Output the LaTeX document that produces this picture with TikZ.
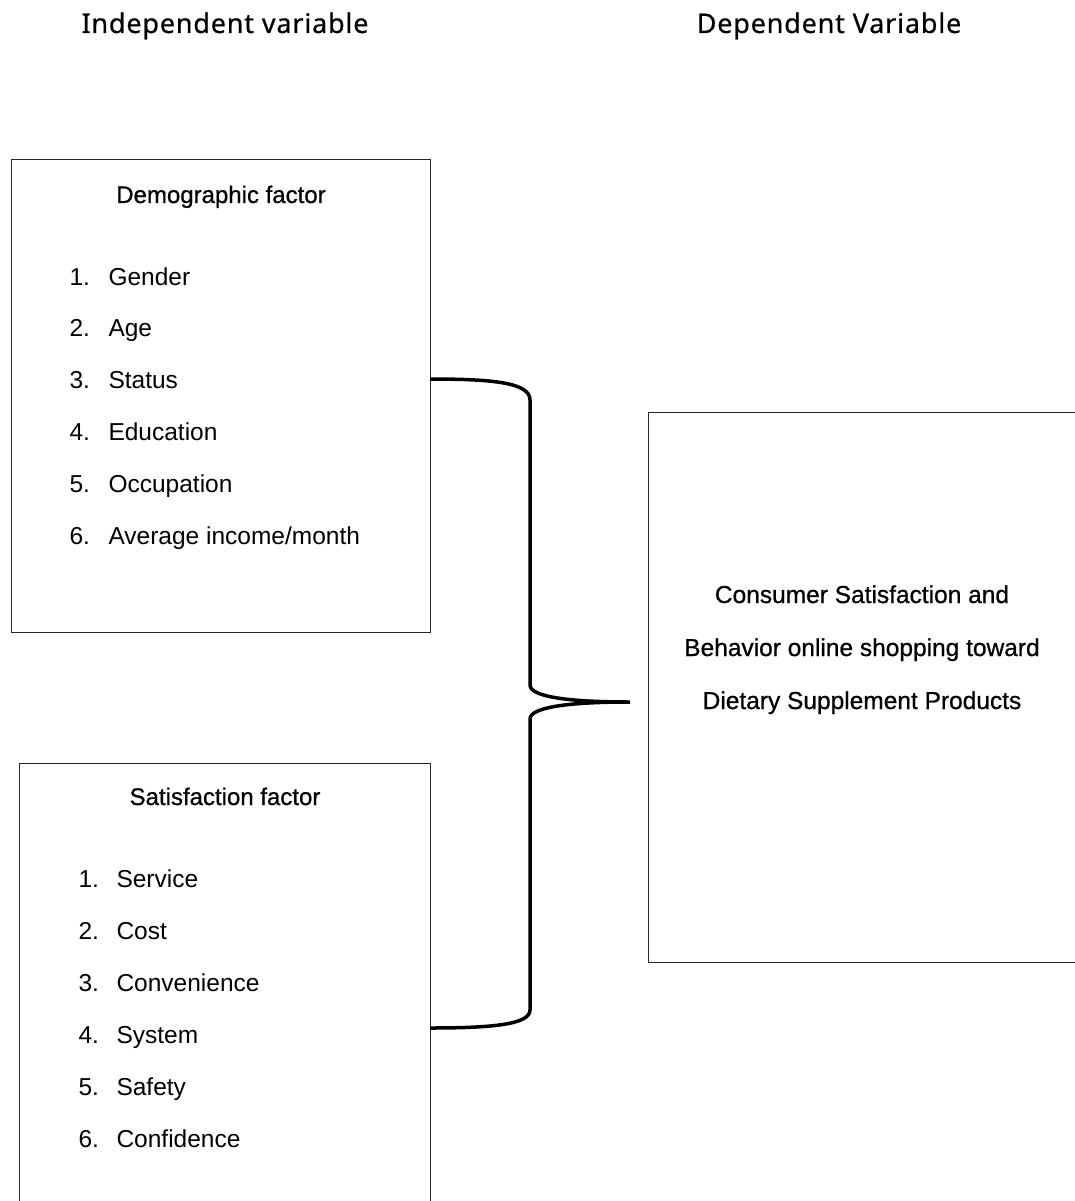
\documentclass[tikz,border=0pt]{standalone}
\usepackage{fontspec}
\setmainfont{Liberation Sans}
\newfontfamily\titlefont[FakeBold=0.6,LetterSpace=3]{Noto Sans}
\newfontfamily\boldish[FakeBold=0.8]{Liberation Sans}
\begin{document}
\begin{tikzpicture}[x=1pt,y=-1pt,
  frame/.style={draw=black!85,line width=1pt},
  coltitle/.style={font=\titlefont\fontsize{27}{30}\selectfont,anchor=base},
  boxtitle/.style={font=\boldish\fontsize{24}{28}\selectfont,anchor=base},
  num/.style={font=\fontsize{24.5}{28}\selectfont,anchor=base west},
  item/.style={font=\fontsize{24.5}{28}\selectfont,anchor=base west},
  centre/.style={font=\boldish\fontsize{24.5}{28}\selectfont,anchor=base},
  brace/.style={line width=3.5pt}]
\useasboundingbox (0,0) rectangle (1075,1201);
\clip (0,0) rectangle (1075,1201);

% column headings
\node[coltitle] (indep) at (225,33) {Independent variable};
\node[coltitle] (dep) at (829,33) {Dependent Variable};

% box frames
\draw[frame] (11,160) rectangle (430,632);
\draw[frame] (19,763) rectangle (430,1230);
\draw[frame] (648,412) rectangle (1100,962);
\coordinate (demoE) at (430,379);
\coordinate (satE) at (430,1028);
\coordinate (tip) at (630,702);

% demographic factor
\node[boxtitle] (demo) at (221,203) {Demographic factor};
\foreach \i/\t [count=\k from 0] in {1/Gender,2/Age,3/Status,4/Education,5/Occupation,6/{Average income/month}}{
  \node[num] (dn\i) at (66,285+51.8*\k) {\i.};
  \node[item] (dt\i) at (105,285+51.8*\k) {\t};
}

% satisfaction factor
\node[boxtitle] (sat) at (225,805) {Satisfaction factor};
\foreach \i/\t [count=\k from 0] in {1/Service,2/Cost,3/Convenience,4/System,5/Safety,6/Confidence}{
  \node[num] (sn\i) at (75,887+52*\k) {\i.};
  \node[item] (st\i) at (113,887+52*\k) {\t};
}

% dependent variable
\node[centre] (c1) at (862,603) {Consumer Satisfaction and};
\node[centre] (c2) at (862,656) {Behavior online shopping toward};
\node[centre] (c3) at (862,709) {Dietary Supplement Products};

% curly brace joining both factors
\draw[brace] (demoE) .. controls (495,379) and (530,383) .. (530,400)
  -- (530,685) .. controls (530,697) and (570,702) .. (tip)
  .. controls (570,702) and (530,707) .. (530,719)
  -- (530,1010) .. controls (530,1024) and (495,1028) .. (satE);
\end{tikzpicture}
\end{document}
